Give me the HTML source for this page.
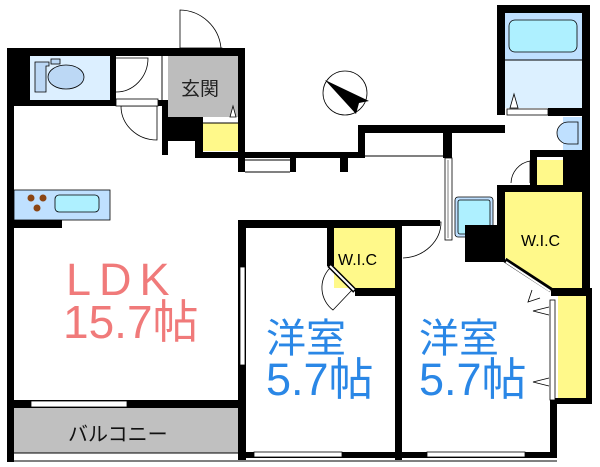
<!DOCTYPE html>
<html><head><meta charset="utf-8"><style>
html,body{margin:0;padding:0;background:#fff;}
svg{display:block;}
text{font-family:"Liberation Sans","Noto Sans CJK JP",sans-serif;}
</style></head><body>
<svg width="600" height="467" viewBox="0 0 600 467" xmlns="http://www.w3.org/2000/svg">
<rect width="600" height="467" fill="#fff"/>
<rect x="30" y="56" width="80" height="44" fill="#dcefff"/>
<path d="M35 62 h14 v4 h-3 v26 h-11z" fill="#bcd8f5" stroke="#000" stroke-width="0.8"/>
<ellipse cx="66" cy="77" rx="18" ry="12" fill="#bcd8f5" stroke="#000" stroke-width="0.8"/>
<rect x="51" y="59" width="9" height="5" fill="#bcd8f5" stroke="#000" stroke-width="0.8"/>
<rect x="168" y="56" width="70" height="61" fill="#bdbdbd"/>
<text x="181" y="95" font-size="19" fill="#222">玄関</text>
<path d="M230 117 l3 -11 l3 11z" fill="#fff" stroke="#000" stroke-width="0.8"/>
<rect x="203" y="123" width="35" height="28" fill="#fff98a"/>
<line x1="203" y1="123" x2="238" y2="123" stroke="#000"/>
<path d="M180 50 V10 A42 42 0 0 1 221 48" fill="none" stroke="#000" stroke-width="0.8"/>
<rect x="180" y="48" width="42" height="7" fill="#fff" stroke="#000" stroke-width="0.8"/>
<g fill="#000">
<rect x="7" y="48" width="238" height="8"/>
<rect x="7" y="48" width="7" height="414"/>
<rect x="7" y="48" width="23" height="52"/>
<rect x="7" y="100" width="155" height="6"/>
<rect x="110" y="56" width="6" height="44"/>
<rect x="162" y="100" width="6" height="55"/>
<rect x="168" y="117" width="35" height="24"/>
<rect x="195" y="140" width="8" height="18"/>
<rect x="238" y="48" width="7" height="124"/>
<rect x="195" y="152" width="170" height="6"/>
<rect x="290" y="158" width="6" height="14"/>
<rect x="340" y="158" width="8" height="14"/>
<rect x="358" y="125" width="7" height="33"/>
<rect x="358" y="125" width="147" height="8"/>
<rect x="443" y="133" width="9" height="25"/>
</g>
<rect x="116" y="56" width="46" height="44" fill="#fff"/>
<path d="M116 92 A32 34 0 0 0 148 58 H116" fill="none" stroke="#000" stroke-width="0.8"/>
<path d="M157 140 A36 34 0 0 1 121 106 H157 Z" fill="none" stroke="#000" stroke-width="0.8"/>
<rect x="116" y="99" width="42" height="7" fill="#fff" stroke="#000" stroke-width="0.8"/>
<line x1="162" y1="56" x2="162" y2="100" stroke="#888" stroke-width="2"/>
<line x1="245" y1="160" x2="290" y2="160" stroke="#000"/>
<line x1="245" y1="172" x2="290" y2="172" stroke="#000"/>
<line x1="365" y1="156" x2="443" y2="156" stroke="#000"/>
<circle cx="345" cy="93" r="22" fill="none" stroke="#000" stroke-width="0.8"/>
<path d="M325 80 L369 101 L359 103 L356 114 Z" fill="#000"/>
<rect x="497" y="5" width="93" height="8" fill="#000"/>
<rect x="505" y="13" width="77" height="47" fill="#bfe0ff"/>
<rect x="505" y="60" width="77" height="48" fill="#dcf0ff"/>
<line x1="505" y1="60" x2="582" y2="60" stroke="#000"/>
<rect x="509" y="20" width="68" height="32" rx="6" fill="#aef0ff" stroke="#000" stroke-width="0.8"/>
<path d="M510 108 l4 -14 l4 14z" fill="#fff" stroke="#000" stroke-width="0.8"/>
<rect x="497" y="13" width="8" height="102" fill="#000"/>
<rect x="548" y="108" width="42" height="8" fill="#000"/>
<rect x="507" y="109" width="41" height="6" fill="#fff" stroke="#000" stroke-width="0.8"/>
<rect x="582" y="5" width="8" height="290" fill="#000"/>
<rect x="563" y="117" width="19" height="33" fill="#bfe0ff"/>
<path d="M578 122 h-10 a8 8 0 0 0 0 22 h10z" fill="#bfe0ff" stroke="#000" stroke-width="0.8"/>
<rect x="530" y="150" width="60" height="7" fill="#000"/>
<rect x="530" y="157" width="7" height="28" fill="#000"/>
<rect x="537" y="160" width="26" height="25" fill="#fff98a"/>
<rect x="563" y="150" width="27" height="42" fill="#000"/>
<path d="M511 183 A23 23 0 0 1 530 161 V183" fill="none" stroke="#000" stroke-width="0.8"/>
<rect x="497" y="185" width="93" height="7" fill="#000"/>
<rect x="445" y="158" width="7" height="82" fill="#fff" stroke="#000" stroke-width="0.8"/>
<line x1="448" y1="160" x2="448" y2="238" stroke="#000" stroke-width="0.5"/>
<rect x="455" y="197" width="38" height="40" rx="3" fill="#bfe0ff" stroke="#000" stroke-width="0.8"/>
<rect x="458" y="200" width="32" height="34" rx="2" fill="#aef0ff" stroke="#000" stroke-width="0.8"/>
<path d="M505 192 H582 V288 H551 L505 258 Z" fill="#fff98a"/>
<rect x="497" y="192" width="8" height="68" fill="#000"/>
<line x1="505" y1="260" x2="551" y2="290" stroke="#000" stroke-width="5"/>
<line x1="506" y1="262" x2="550" y2="291" stroke="#fff" stroke-width="2"/>
<text x="521" y="246" font-size="16" fill="#000">W.I.C</text>
<rect x="465" y="225" width="40" height="37" fill="#000"/>
<rect x="551" y="288" width="41" height="8" fill="#000"/>
<rect x="558" y="296" width="28" height="104" fill="#fff98a"/>
<rect x="586" y="288" width="6" height="114" fill="#000"/>
<rect x="550" y="398" width="42" height="6" fill="#000"/>
<rect x="550" y="300" width="5" height="100" fill="#fff" stroke="#000" stroke-width="0.8"/>
<rect x="550" y="400" width="7" height="58" fill="#000"/>
<path d="M549 307 l-16 4 l16 4 M549 378 l-16 4 l16 4 M540 298 l-12 4 l4 -12" fill="none" stroke="#000" stroke-width="0.8"/>
<rect x="238" y="220" width="164" height="8" fill="#000"/>
<rect x="238" y="220" width="8" height="240" fill="#000"/>
<rect x="240" y="267" width="5" height="98" fill="#fff" stroke="#000" stroke-width="0.8"/>
<rect x="334" y="228" width="61" height="60" fill="#fff98a"/>
<rect x="327" y="228" width="7" height="38" fill="#000"/>
<rect x="355" y="288" width="41" height="8" fill="#000"/>
<line x1="329" y1="265" x2="355" y2="291" stroke="#000" stroke-width="5"/>
<line x1="330" y1="266" x2="354" y2="290" stroke="#fff" stroke-width="2"/>
<path d="M330 268 A28 28 0 0 0 333 310 L352 290" fill="none" stroke="#000" stroke-width="0.8"/>
<text x="338" y="265" font-size="16" fill="#000">W.I.C</text>
<rect x="395" y="220" width="7" height="240" fill="#000"/>
<rect x="402" y="220" width="38" height="6" fill="#000"/>
<path d="M403 258 A40 36 0 0 0 441 222 H403" fill="none" stroke="#000" stroke-width="0.8"/>
<text x="266" y="352" font-size="40" fill="#2a87e6">洋室</text>
<text x="266" y="395" font-size="45" fill="#2a87e6">5.7帖</text>
<text x="419" y="352" font-size="40" fill="#2a87e6">洋室</text>
<text x="419" y="395" font-size="45" fill="#2a87e6">5.7帖</text>
<rect x="14" y="190" width="96" height="30" fill="#bfe0ff" stroke="#000" stroke-width="0.8"/>
<circle cx="31" cy="198" r="3.5" fill="#8b4513"/>
<circle cx="43" cy="198" r="3.5" fill="#8b4513"/>
<circle cx="37" cy="208" r="3.5" fill="#8b4513"/>
<rect x="55" y="195" width="44" height="17" rx="4" fill="#aef0ff" stroke="#000" stroke-width="0.8"/>
<rect x="14" y="220" width="48" height="8" fill="#000"/>
<text x="66" y="295" font-size="45" fill="#f07a7a" letter-spacing="8">LDK</text>
<text x="63" y="338" font-size="46" fill="#f07a7a">15.7帖</text>
<rect x="14" y="400" width="226" height="8" fill="#000"/>
<rect x="31" y="401" width="96" height="6" fill="#fff" stroke="#000" stroke-width="0.8"/>
<rect x="14" y="408" width="224" height="45" fill="#c0c0c0"/>
<line x1="14" y1="453" x2="238" y2="453" stroke="#000"/>
<text x="68" y="441" font-size="20" fill="#111">バルコニー</text>
<rect x="238" y="452" width="319" height="6" fill="#000"/>
<rect x="254" y="452" width="88" height="5" fill="#fff" stroke="#000" stroke-width="0.8"/>
<rect x="427" y="452" width="98" height="5" fill="#fff" stroke="#000" stroke-width="0.8"/>
<line x1="7" y1="461" x2="557" y2="461" stroke="#000" stroke-width="1"/>
</svg>
</body></html>
